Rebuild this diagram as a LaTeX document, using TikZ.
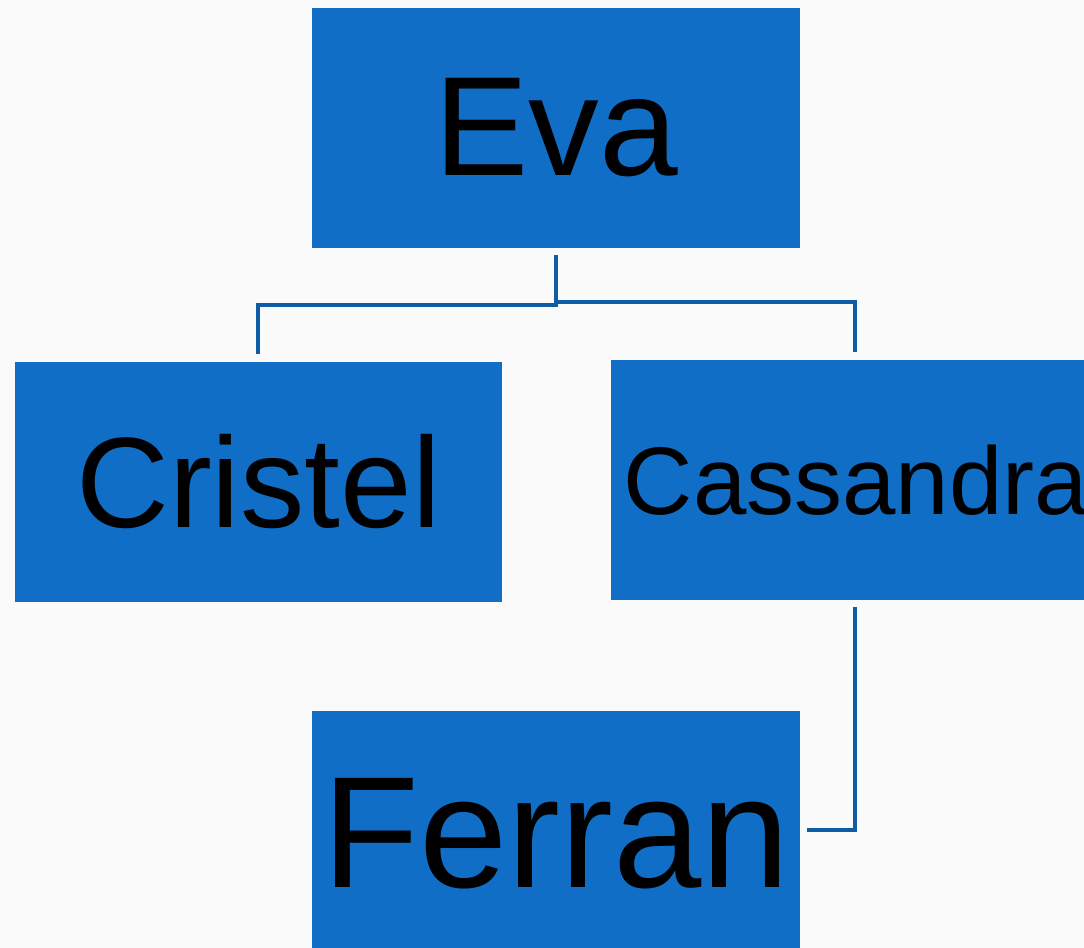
\documentclass[tikz,border=0pt]{standalone}
\usepackage{fontspec}
\setmainfont{Liberation Sans}
\definecolor{boxblue}{RGB}{16,110,198}
\definecolor{lineblue}{RGB}{14,92,166}
\definecolor{bg}{RGB}{250,250,250}
\begin{document}
\begin{tikzpicture}[x=0.75pt,y=-0.75pt,
  orgbox/.style={fill=boxblue,draw=none,inner sep=0pt,rectangle,text=black},
  conn/.style={draw=lineblue,line width=3.3pt,line cap=butt,line join=miter}]
\useasboundingbox (0,0) rectangle (1084,948);
\clip (0,0) rectangle (1084,948);
\fill[bg] (0,0) rectangle (1084,948);
\node[orgbox,minimum width=488*0.75pt,minimum height=240*0.75pt] (eva) at (556,128)
  {\fontsize{106pt}{110pt}\selectfont Eva};
\node[orgbox,minimum width=487*0.75pt,minimum height=240*0.75pt] (cristel) at (258.5,482)
  {\fontsize{96.5pt}{100pt}\selectfont Cristel};
\node[orgbox,minimum width=490*0.75pt,minimum height=240*0.75pt] (cass) at (856,480)
  {\fontsize{72pt}{76pt}\selectfont Cassandra};
\node[orgbox,minimum width=488*0.75pt,minimum height=246*0.75pt] (ferran) at (556,834)
  {\fontsize{119pt}{122pt}\selectfont Ferran};
\coordinate (evab) at ([yshift=-7*0.75pt]eva.south);
\coordinate (cristt) at (258,354);
\coordinate (casst) at (855,352);
\coordinate (cassb) at (855,607);
\coordinate (ferr) at (807,830);
\draw[conn] (evab) -- (556,305) -| (cristt);
\draw[conn] (556,302) -| (casst);
\draw[conn] (cassb) |- (ferr);
\end{tikzpicture}
\end{document}
